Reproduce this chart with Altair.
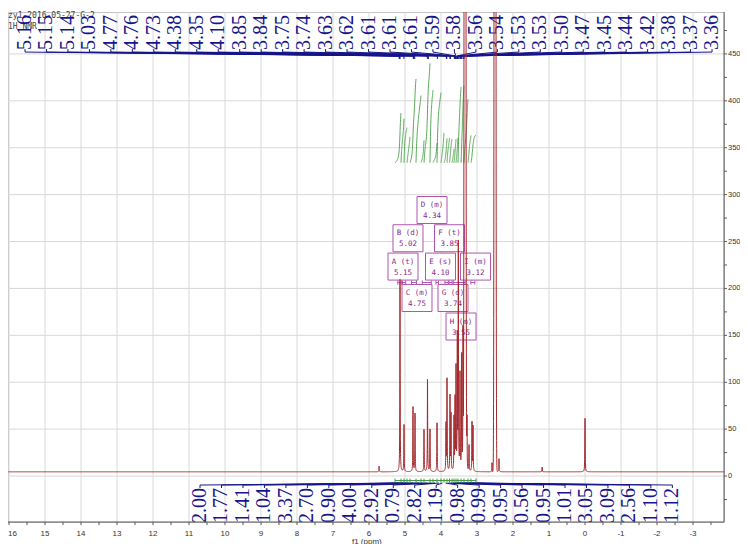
import altair as alt
import numpy as np
import pandas as pd

# ---------------- values ----------------
# spectrum lines: chemical shift (ppm) and height above baseline
line_ppm = [5.72, 5.139, 5.028, 4.778, 4.722, 4.472, 4.375, 4.306, 4.111,
            3.861, 3.833, 3.750, 3.722, 3.639, 3.611, 3.583, 3.547, 3.519,
            3.472, 3.425, 3.389, 3.278, 3.222, 3.139, 3.111, 2.583, 2.389,
            1.19, 0.00]
line_height = [6, 205, 50, 69, 62, 45, 98, 45, 52, 50, 98, 80, 60, 56, 75,
               108, 140, 240, 102, 122, 150, 56, 28, 52, 48, 10, 14, 5, 57]
solvent_ppm = [3.333, 2.500]
solvent_height = [3000, 3000]
dip_ppm = [2.54]
dip_height = [-6]
baseline_level = 4.5

# peak-pick labels (top)
peak_labels = ["5.16", "5.15", "5.14", "5.03", "4.77", "4.76", "4.73", "4.38",
               "4.35", "4.10", "3.85", "3.84", "3.75", "3.74", "3.63", "3.62",
               "3.61", "3.61", "3.61", "3.59", "3.58", "3.56", "3.54", "3.53",
               "3.53", "3.50", "3.47", "3.45", "3.44", "3.42", "3.38", "3.37",
               "3.36"]

# integrals (bottom labels) and their region edges (ppm)
integral_values = ["2.00", "1.77", "1.41", "1.04", "3.37", "2.70", "0.90",
                   "4.00", "2.92", "0.79", "2.82", "1.19", "0.98", "0.99",
                   "0.95", "0.56", "0.95", "1.01", "3.05", "3.09", "2.56",
                   "1.10", "1.12"]
integral_edges = [5.278, 5.111, 5.028, 4.944, 4.861, 4.694, 4.556, 4.472,
                  4.306, 4.222, 4.111, 4.000, 3.917, 3.833, 3.764, 3.694,
                  3.639, 3.583, 3.528, 3.444, 3.361, 3.250, 3.167, 3.028]
integral_base = 334
integral_scale = 26.5

# multiplet annotation boxes
mult_names = ["A (t)", "B (d)", "C (m)", "D (m)", "E (s)", "F (t)", "G (d)",
              "H (m)", "I (m)"]
mult_shift = ["5.15", "5.02", "4.75", "4.34", "4.10", "3.85", "3.74", "3.55",
              "3.12"]
box_ppm = [5.056, 4.917, 4.667, 4.250, 4.014, 3.764, 3.667, 3.444, 3.042]
box_level = [223.3, 253.5, 189.8, 283.6, 223.3, 253.5, 189.8, 159.4, 223.3]
mult_hi = [5.20, 5.07, 4.82, 4.52, 4.14, 3.89, 3.78, 3.66, 3.17]
mult_lo = [5.10, 4.98, 4.68, 4.27, 4.07, 3.80, 3.69, 3.33, 3.06]

# axes
x_tick_values = [v / 2 for v in range(-7, 33)]          # every 0.5 ppm
x_label_values = list(range(16, -4, -1))
y_tick_values = list(range(-25, 476, 25))
y_label_values = list(range(0, 451, 50))
x_title = "f1 (ppm)"

sample_title = "zy1-2016-05-27-G-2"
nucleus_title = "1H NMR"

# ---------------- layout constants ----------------
PPM_LEFT, PPM_RIGHT = 16.028, -3.861
Y_LOW, Y_HIGH = -49, 494.7
LABEL_STEP = 0.5964
TOP_FIRST = 15.556
BOTTOM_FIRST = 10.694

X = alt.Scale(domain=[PPM_LEFT, PPM_RIGHT], nice=False, zero=False)
Y = alt.Scale(domain=[Y_LOW, Y_HIGH], nice=False, zero=False)

NAVY = "#16168a"
RED = "#a3282c"
GREEN = "#3d9b3d"
PURPLE = "#b055b0"
GRID = "#d9d9d9"
AXIS = "#5a5a5a"


def xq(f):
    return alt.X(f, scale=X, axis=None)


def yq(f):
    return alt.Y(f, scale=Y, axis=None)


def yd(v):
    return alt.datum(v, scale=Y, axis=None)


def xd(v):
    return alt.datum(v, scale=X, axis=None)


# ---------------- spectrum ----------------
grid = np.concatenate([
    np.arange(PPM_RIGHT, 2.2, 0.01),
    np.arange(2.2, 5.9, 0.0015),
    np.arange(5.9, PPM_LEFT, 0.01),
    np.array(line_ppm), np.array(solvent_ppm),
])
grid = np.unique(np.round(grid, 5))
g = 0.005
spec = np.full_like(grid, baseline_level)
for p, h in zip(line_ppm, line_height):
    spec += h * g * g / ((grid - p) ** 2 + g * g)
for p, h in zip(solvent_ppm, solvent_height):
    spec += h * np.exp(-((grid - p) ** 2) / (2 * 0.015 ** 2))
for p, h in zip(dip_ppm, dip_height):
    spec += h * 0.01 ** 2 / ((grid - p) ** 2 + 0.01 ** 2)
spec_df = pd.DataFrame({"ppm": grid, "v": spec})

# ---------------- integral curves ----------------
rows = []
G = 0.02
for k, val in enumerate(integral_values):
    hi, lo = integral_edges[k], integral_edges[k + 1]
    pts = np.linspace(hi, lo, 40)
    dens = np.zeros_like(pts)
    for p, h in zip(line_ppm, line_height):
        dens += h * G * G / ((pts - p) ** 2 + G * G)
    cum = np.concatenate([[0], np.cumsum((dens[1:] + dens[:-1]) / 2)])
    frac = cum / cum[-1]
    for p, f in zip(pts, frac):
        rows.append({"ppm": p, "v": integral_base + integral_scale * float(val) * f,
                     "region": k})
int_df = pd.DataFrame(rows)

reg_df = pd.DataFrame({"hi": integral_edges[:-1], "lo": integral_edges[1:],
                       "label": integral_values})
reg_df["mid"] = (reg_df["hi"] + reg_df["lo"]) / 2
reg_df["pos"] = [BOTTOM_FIRST - i * LABEL_STEP for i in range(len(integral_values))]
edge_df = pd.DataFrame({"ppm": integral_edges})

top_df = pd.DataFrame({"label": peak_labels})
top_df["pos"] = [TOP_FIRST - i * LABEL_STEP for i in range(len(peak_labels))]
top_df["peak"] = top_df["label"].astype(float)

box_df = pd.DataFrame({"name": mult_names, "shift": mult_shift,
                       "cx": box_ppm, "cy": box_level})
box_df["x0"] = box_df["cx"] + 0.4167
box_df["x1"] = box_df["cx"] - 0.4167
box_df["y0"] = box_df["cy"] - 14.4
box_df["y1"] = box_df["cy"] + 14.4
mult_df = pd.DataFrame({"hi": mult_hi, "lo": mult_lo})

xt_df = pd.DataFrame({"v": x_tick_values})
xl_df = pd.DataFrame({"v": x_label_values, "t": [str(v) for v in x_label_values]})
xl_first = xl_df[xl_df["v"] == max(x_label_values)]
xl_rest = xl_df[xl_df["v"] != max(x_label_values)]
yt_df = pd.DataFrame({"v": y_tick_values})
yl_df = pd.DataFrame({"v": y_label_values, "t": [str(v) for v in y_label_values]})

# ---------------- layers ----------------
grid_x = alt.Chart(xl_df).mark_rule(color=GRID, strokeWidth=1).encode(
    x=xq("v:Q"), y=yd(Y_LOW), y2=alt.datum(Y_HIGH))
grid_y = alt.Chart(yl_df).mark_rule(color=GRID, strokeWidth=1).encode(
    y=yq("v:Q"), x=xd(PPM_LEFT), x2=alt.datum(PPM_RIGHT))

x_ticks = alt.Chart(xt_df).mark_rule(color=AXIS, strokeWidth=1).encode(
    x=xq("v:Q"), y=yd(Y_LOW), y2=alt.datum(-52.3))
x_labels = alt.Chart(xl_rest).mark_text(font="Liberation Sans", fontSize=8,
                                        color="#333333", baseline="middle").encode(
    x=xq("v:Q"), y=yd(-61.5), text="t:N")
x_label_first = alt.Chart(xl_first).mark_text(
    font="Liberation Sans", fontSize=8, color="#333333", baseline="middle",
    align="left").encode(x=xd(PPM_LEFT), y=yd(-61.5), text="t:N")
x_line = alt.Chart(xl_df.head(1)).mark_rule(color=AXIS, strokeWidth=1).encode(
    x=xd(PPM_LEFT), x2=alt.datum(PPM_RIGHT), y=yd(Y_LOW))
x_name = alt.Chart(pd.DataFrame({"t": [x_title]})).mark_text(
    font="Liberation Sans", fontSize=8, color="#333333", baseline="middle").encode(
    x=xd(6.06), y=yd(-70.5), text="t:N")

y_ticks = alt.Chart(yt_df).mark_rule(color=AXIS, strokeWidth=1).encode(
    y=yq("v:Q"), x=xd(PPM_RIGHT), x2=alt.datum(-3.944))
y_labels = alt.Chart(yl_df).mark_text(font="Liberation Sans", fontSize=7.5,
                                      color="#333333", align="left",
                                      baseline="middle").encode(
    y=yq("v:Q"), x=xd(-3.972), text="t:N")
y_line = alt.Chart(yl_df.head(1)).mark_rule(color=AXIS, strokeWidth=1).encode(
    x=xd(PPM_RIGHT), y=yd(Y_LOW), y2=alt.datum(Y_HIGH))

titles = alt.Chart(pd.DataFrame({"t": [sample_title, nucleus_title],
                                 "row": [3.5, 15]})).mark_text(
    align="left", baseline="middle", font="DejaVu Sans Mono", fontSize=8,
    color="#444444").encode(x=alt.value(0), y=alt.Y("row:Q", scale=None, axis=None),
                            text="t:N")

integrals = alt.Chart(int_df).mark_line(color=GREEN, strokeWidth=1, opacity=0.85).encode(
    x=xq("ppm:Q"), y=yq("v:Q"), detail="region:N")

boxes = alt.Chart(box_df).mark_rect(fill="white", stroke=PURPLE, strokeWidth=1).encode(
    x=xq("x0:Q"), x2="x1:Q", y=yq("y0:Q"), y2="y1:Q")
box_t1 = alt.Chart(box_df).mark_text(font="DejaVu Sans Mono", fontSize=7.5,
                                     color="#8c2a8c", dy=-5).encode(
    x=xq("cx:Q"), y=yq("cy:Q"), text="name:N")
box_t2 = alt.Chart(box_df).mark_text(font="DejaVu Sans Mono", fontSize=7.5,
                                     color="#8c2a8c", dy=6).encode(
    x=xq("cx:Q"), y=yq("cy:Q"), text="shift:N")

mult_lines = alt.Chart(mult_df).mark_rule(color=PURPLE, strokeWidth=1).encode(
    x=xq("hi:Q"), x2="lo:Q", y=yd(206.3))
mult_t_hi = alt.Chart(mult_df).mark_rule(color=PURPLE, strokeWidth=1).encode(
    x=xq("hi:Q"), y=yd(204.0), y2=alt.datum(208.5))
mult_t_lo = alt.Chart(mult_df).mark_rule(color=PURPLE, strokeWidth=1).encode(
    x=xq("lo:Q"), y=yd(204.0), y2=alt.datum(208.5))

top_tick = alt.Chart(top_df).mark_rule(color=NAVY, strokeWidth=1).encode(
    x=xq("pos:Q"), y=yd(455.2), y2=alt.datum(452.0))
top_fan = alt.Chart(top_df).mark_rule(color=NAVY, strokeWidth=1).encode(
    x=xq("pos:Q"), x2="peak:Q", y=yd(452.0), y2=alt.datum(447.8))
top_peak = alt.Chart(top_df).mark_rule(color=NAVY, strokeWidth=1).encode(
    x=xq("peak:Q"), y=yd(447.8), y2=alt.datum(444.6))
top_text = alt.Chart(top_df).mark_text(
    angle=270, align="left", baseline="middle", font="Liberation Serif",
    fontSize=20, color=NAVY).encode(x=xq("pos:Q"), y=yd(454.2), text="label:N")

bot_tick = alt.Chart(reg_df).mark_rule(color=NAVY, strokeWidth=1).encode(
    x=xq("pos:Q"), y=yd(-12.8), y2=alt.datum(-9.6))
bot_fan = alt.Chart(reg_df).mark_rule(color=NAVY, strokeWidth=1).encode(
    x=xq("pos:Q"), x2="mid:Q", y=yd(-9.6), y2=alt.datum(-7.5))
bot_text = alt.Chart(reg_df).mark_text(
    angle=270, align="left", baseline="middle", font="Liberation Serif",
    fontSize=20, color=NAVY).encode(x=xq("pos:Q"), y=yd(-50.1), text="label:N")

reg_line = alt.Chart(reg_df).mark_rule(color=GREEN, strokeWidth=1).encode(
    x=xq("hi:Q"), x2="lo:Q", y=yd(-4.8))
reg_edge = alt.Chart(edge_df).mark_rule(color=GREEN, strokeWidth=1).encode(
    x=xq("ppm:Q"), y=yd(-2.7), y2=alt.datum(-7.0))

spectrum = alt.Chart(spec_df).mark_line(color=RED, strokeWidth=1, clip=True).encode(
    x=xq("ppm:Q"), y=yq("v:Q"))

chart = alt.layer(
    grid_x, grid_y, titles, integrals, boxes, box_t1, box_t2,
    mult_lines, mult_t_hi, mult_t_lo,
    top_tick, top_fan, top_peak, top_text,
    bot_tick, bot_fan, bot_text, reg_line, reg_edge,
    spectrum,
    x_ticks, x_labels, x_label_first, x_line, x_name, y_ticks, y_labels, y_line,
).properties(
    width=716, height=510,
    padding={"left": 0, "top": 4, "right": 16, "bottom": 30},
    autosize=alt.AutoSizeParams(type="none"),
    background="white",
).configure_view(stroke="#c4c4c4")

chart.save("out.html", embed_options={"renderer": "svg", "actions": False})
